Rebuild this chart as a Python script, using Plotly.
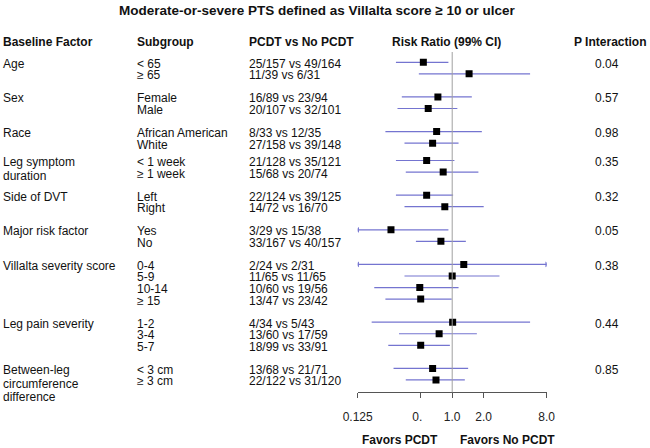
import plotly.graph_objects as go

# ---------------- data ----------------
title_text = "Moderate-or-severe PTS defined as Villalta score ≥ 10 or ulcer"
headers = ["Baseline Factor", "Subgroup", "PCDT vs No PCDT", "Risk Ratio (99% CI)", "P Interaction"]

factors = ["Age", "Sex", "Race", "Leg symptom\nduration", "Side of DVT",
           "Major risk factor", "Villalta severity score", "Leg pain severity",
           "Between-leg\ncircumference\ndifference"]
p_interaction = ["0.04", "0.57", "0.98", "0.35", "0.32", "0.05", "0.38", "0.44", "0.85"]

subgroups = [["< 65", "≥ 65"], ["Female", "Male"], ["African American", "White"],
             ["< 1 week", "≥ 1 week"], ["Left", "Right"], ["Yes", "No"],
             ["0-4", "5-9", "10-14", "≥ 15"], ["1-2", "3-4", "5-7"], ["< 3 cm", "≥ 3 cm"]]
counts = [["25/157 vs 49/164", "11/39 vs 6/31"],
          ["16/89 vs 23/94", "20/107 vs 32/101"],
          ["8/33 vs 12/35", "27/158 vs 39/148"],
          ["21/128 vs 35/121", "15/68 vs 20/74"],
          ["22/124 vs 39/125", "14/72 vs 16/70"],
          ["3/29 vs 15/38", "33/167 vs 40/157"],
          ["2/24 vs 2/31", "11/65 vs 11/65", "10/60 vs 19/56", "13/47 vs 23/42"],
          ["4/34 vs 5/43", "13/60 vs 17/59", "18/99 vs 33/91"],
          ["13/68 vs 21/71", "22/122 vs 31/120"]]
rr = [[0.53, 1.45], [0.73, 0.59], [0.71, 0.65], [0.57, 0.82], [0.57, 0.85],
      [0.26, 0.78], [1.29, 1.00, 0.49, 0.50], [1.01, 0.75, 0.50], [0.65, 0.70]]
ci_low = [[0.29, 0.48], [0.33, 0.30], [0.23, 0.35], [0.29, 0.36], [0.29, 0.35],
          [0.07, 0.45], [0.10, 0.35, 0.18, 0.23], [0.17, 0.31, 0.245], [0.275, 0.36]]
ci_high = [[0.92, 5.55], [1.54, 1.12], [1.92, 1.15], [1.05, 1.78], [1.02, 2.00],
           [0.92, 1.35], [16.5, 2.83, 1.15, 0.99], [5.55, 1.72, 0.95], [1.42, 1.32]]

tick_vals = [0.125, 0.5, 1.0, 2.0, 8.0]
tick_text = ["0.125", "0.<span style='color:rgba(0,0,0,0)'>5</span>", "1.0", "2.0", "8.0"]
favors = ["Favors PCDT", "Favors No PCDT"]

# ---------------- layout constants ----------------
W, H = 650, 448
group_start = [0, 3, 6, 8.5, 11.5, 14.5, 17.5, 22.5, 26.5]
ROW_PX = 11.55
Y0_PX = 62.3          # pixel of row 0
AX_TOP_PX, AX_BOT_PX = 52.0, 392.3
X_LEFT_PX, X_RIGHT_PX = 357.7, 546.7
FONT = "Arial, Liberation Sans, sans-serif"
LINE_COL = "#7474d0"
XMIN, XMAX = tick_vals[0], tick_vals[-1]

r_top = (AX_TOP_PX - Y0_PX) / ROW_PX
r_bot = (AX_BOT_PX - Y0_PX) / ROW_PX

def px(x):
    return x / W

def py(y):
    return (H - y) / H

fig = go.Figure()

# CI lines
lx, ly = [], []
arrow_l_x, arrow_l_y, arrow_r_x, arrow_r_y = [], [], [], []
mx, my = [], []
for g, start in enumerate(group_start):
    for j in range(len(subgroups[g])):
        y = start + j
        lo, hi = ci_low[g][j], ci_high[g][j]
        lo_c, hi_c = max(lo, XMIN), min(hi, XMAX)
        lx += [lo_c, hi_c, None]
        ly += [y, y, None]
        if lo < XMIN:
            arrow_l_x.append(XMIN); arrow_l_y.append(y)
        if hi > XMAX:
            arrow_r_x.append(XMAX); arrow_r_y.append(y)
        mx.append(rr[g][j]); my.append(y)

fig.add_trace(go.Scatter(x=lx, y=ly, mode="lines",
                         line=dict(color=LINE_COL, width=1.2),
                         hoverinfo="skip", showlegend=False))
fig.add_trace(go.Scatter(x=arrow_l_x, y=arrow_l_y, mode="markers",
                         marker=dict(symbol="triangle-left", size=5, color=LINE_COL),
                         hoverinfo="skip", showlegend=False))
fig.add_trace(go.Scatter(x=arrow_r_x, y=arrow_r_y, mode="markers",
                         marker=dict(symbol="triangle-right", size=5, color=LINE_COL),
                         hoverinfo="skip", showlegend=False))
fig.add_trace(go.Scatter(x=mx, y=my, mode="markers",
                         marker=dict(symbol="square", size=7, color="black",
                                     line=dict(width=0)),
                         showlegend=False))

# reference line at 1
fig.add_shape(type="line", xref="x", yref="y domain", x0=1, x1=1, y0=0, y1=1,
              line=dict(color="#a0a0a0", width=1))

ann = []
def add_text(text, x, y, yref="paper", xanchor="left", bold=False, size=12, yshift=0):
    ann.append(dict(text=f"<b>{text}</b>" if bold else text, x=x, y=y,
                    xref="paper", yref=yref, xanchor=xanchor, yanchor="middle",
                    showarrow=False, yshift=yshift, borderpad=0, borderwidth=0,
                    font=dict(family=FONT, size=size, color="#111")))

# title & headers
add_text(title_text, px(317), py(10.5), xanchor="center", bold=True, size=13.5)
add_text(headers[0], px(3), py(42.5), bold=True)
add_text(headers[1], px(137), py(42.5), bold=True)
add_text(headers[2], px(249), py(42.5), bold=True)
add_text(headers[3], px(446), py(42.5), xanchor="center", bold=True)
add_text(headers[4], px(610), py(42.5), xanchor="center", bold=True)

# rows
for g, start in enumerate(group_start):
    for k, line in enumerate(factors[g].split("\n")):
        add_text(line, px(3), start, yref="y", yshift=-1.5 - 13.8 * k)
    add_text(p_interaction[g], px(607), start, yref="y", xanchor="center", yshift=-1.5)
    for j in range(len(subgroups[g])):
        add_text(subgroups[g][j], px(137), start + j, yref="y", yshift=-1.5)
        add_text(counts[g][j], px(249), start + j, yref="y", yshift=-1.5)

add_text(favors[0], px(400), py(439.5), xanchor="center", bold=True)
add_text(favors[1], px(507.5), py(439.5), xanchor="center", bold=True)

fig.update_layout(
    width=W, height=H, margin=dict(l=0, r=0, t=0, b=0, autoexpand=False),
    paper_bgcolor="white", plot_bgcolor="white",
    annotations=ann,
    xaxis=dict(type="log", range=[-0.90309, 0.90309],
               domain=[px(X_LEFT_PX), px(X_RIGHT_PX)],
               tickvals=tick_vals, ticktext=tick_text,
               showline=True, linecolor="#555", linewidth=1,
               ticks="outside", ticklen=5, tickcolor="#555",
               showgrid=False, zeroline=False, automargin=False,
               tickfont=dict(family=FONT, size=12, color="#222"),
               ticklabelstandoff=8),
    yaxis=dict(range=[r_bot, r_top], domain=[py(AX_BOT_PX), py(AX_TOP_PX)],
               visible=False, showgrid=False, zeroline=False, automargin=False),
)

fig.write_html("out.html", config={"displayModeBar": False},
               post_script="document.body.style.margin='0';document.body.style.overflow='hidden';")
